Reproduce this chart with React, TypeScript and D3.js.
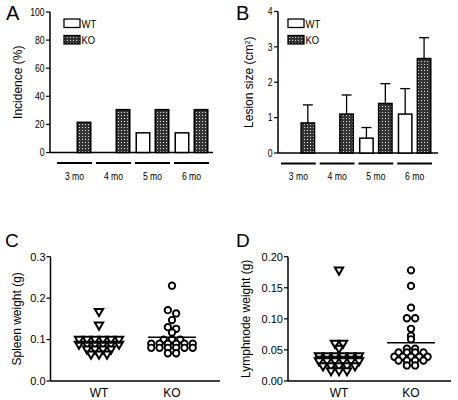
import React from "react";
import * as d3 from "d3";

const months = ["3 mo", "4 mo", "5 mo", "6 mo"];
const groups = ["WT", "KO"];
const incidenceWT = [0, 0, 14, 14];
const incidenceKO = [21.5, 30.5, 30.5, 30.5];
const incidenceTicks = [0, 20, 40, 60, 80, 100];
const lesionWT = [0, 0, 0.42, 1.1];
const lesionWTErr = [0, 0, 0.3, 0.72];
const lesionKO = [0.85, 1.1, 1.4, 2.67];
const lesionKOErr = [0.51, 0.54, 0.56, 0.59];
const lesionTicks = [0, 1, 2, 3, 4];

const spleenWT = [0.167, 0.134, 0.1, 0.1, 0.1, 0.1, 0.1, 0.1, 0.088, 0.088, 0.088, 0.088, 0.088, 0.088, 0.076, 0.076, 0.076, 0.076, 0.064, 0.064, 0.064];
const spleenKO = [0.23, 0.171, 0.163, 0.147, 0.13, 0.126, 0.117, 0.1, 0.1, 0.1, 0.09, 0.09, 0.09, 0.09, 0.09, 0.09, 0.08, 0.08, 0.08, 0.08, 0.08, 0.08, 0.067, 0.067];
const spleenTicks = [0, 0.1, 0.2, 0.3];
const lymphWT = [0.178, 0.06, 0.06, 0.052, 0.04, 0.04, 0.04, 0.04, 0.04, 0.04, 0.032, 0.032, 0.032, 0.032, 0.032, 0.032, 0.024, 0.024, 0.024, 0.024, 0.024, 0.016, 0.016, 0.016];
const lymphKO = [0.178, 0.153, 0.118, 0.101, 0.101, 0.084, 0.073, 0.067, 0.052, 0.052, 0.046, 0.046, 0.046, 0.046, 0.039, 0.039, 0.039, 0.039, 0.039, 0.033, 0.033, 0.033, 0.033, 0.025, 0.025];
const lymphTicks = [0, 0.05, 0.1, 0.15, 0.2];

const ARIAL = "Arial, 'Liberation Sans', sans-serif";

// Prism-like row layout: points whose pixel heights are close share a row and are spread symmetrically
function rowLayout(values: number[], y: (v: number) => number, cx: number, w: number, h: number) {
  const order = values.map((_, i) => i).sort((a, b) => values[b] - values[a]);
  const rows: number[][] = [];
  for (const i of order) {
    const last = rows[rows.length - 1];
    if (last && Math.abs(y(values[i]) - y(values[last[0]])) < h) last.push(i);
    else rows.push([i]);
  }
  const xs = new Array(values.length).fill(cx);
  for (const row of rows) {
    row.forEach((idx, k) => {
      xs[idx] = cx + (k - (row.length - 1) / 2) * w;
    });
  }
  return xs;
}

function NarrowText(props: { x: number; y: number; anchor: string; children: React.ReactNode; size?: number }) {
  return (
    <text transform={`translate(${props.x},${props.y}) scale(0.82,1)`} dy="0.35em" textAnchor={props.anchor}
      fontFamily={ARIAL} fontSize={props.size ?? 10.5}>{props.children}</text>
  );
}

function BarPanel(props: {
  letter: string; letterX: number; x0: number; x1: number; axisX: number; axisEnd: number;
  y: d3.ScaleLinear<number, number>; ticks: number[]; wt: number[]; ko: number[];
  wtErr?: number[]; koErr?: number[]; title: React.ReactNode; titleX: number; legendX: number;
}) {
  const { x0, x1, y } = props;
  const band = d3.scaleBand().domain(months).range([x0, x1]);
  const bw = band.bandwidth();
  const inner = d3.scaleBand().domain(groups).range([0, bw]).paddingInner(0.29).paddingOuter(0.17);
  const base = y(0);
  const top = y(props.ticks[props.ticks.length - 1]);
  return (
    <g>
      <text x={props.letterX} y={20} fontFamily={ARIAL} fontSize={20}>{props.letter}</text>
      <line x1={props.axisX} x2={props.axisX} y1={top} y2={base} stroke="#000" strokeWidth={1.5} />
      <line x1={props.axisX} x2={props.axisEnd} y1={base} y2={base} stroke="#000" strokeWidth={1.5} />
      {props.ticks.map((t) => (
        <g key={t}>
          <line x1={props.axisX - 4} x2={props.axisX} y1={y(t)} y2={y(t)} stroke="#000" strokeWidth={1.2} />
          <NarrowText x={props.axisX - 5.5} y={y(t)} anchor="end">{t}</NarrowText>
        </g>
      ))}
      <text transform={`translate(${props.titleX},${(top + base) / 2}) rotate(-90)`} textAnchor="middle" fontFamily={ARIAL} fontSize={12}>{props.title}</text>
      {months.map((m, i) => {
        const bx = band(m)!;
        const vals = [props.wt[i], props.ko[i]];
        const errs = [props.wtErr ? props.wtErr[i] : 0, props.koErr ? props.koErr[i] : 0];
        return (
          <g key={m}>
            {groups.map((g, j) => {
              const v = vals[j];
              if (v <= 0) return null;
              const x = bx + inner(g)!;
              const cx = x + inner.bandwidth() / 2;
              const e = errs[j];
              return (
                <g key={g}>
                  {e > 0 && (
                    <g>
                      <line x1={cx} x2={cx} y1={y(v)} y2={y(v + e)} stroke="#000" strokeWidth={1.3} />
                      <line x1={cx - 5} x2={cx + 5} y1={y(v + e)} y2={y(v + e)} stroke="#000" strokeWidth={1.3} />
                    </g>
                  )}
                  <rect x={x} y={y(v)} width={inner.bandwidth()} height={base - y(v)}
                    fill={g === "WT" ? "#fff" : "url(#hatch)"} stroke="#000" strokeWidth={1.5} />
                </g>
              );
            })}
            <line x1={bx + 2} x2={bx + bw - 2} y1={base + 10.5} y2={base + 10.5} stroke="#000" strokeWidth={1.8} />
            <NarrowText x={bx + bw / 2} y={base + 23.5} anchor="middle">{m}</NarrowText>
          </g>
        );
      })}
      {groups.map((g, j) => (
        <g key={g}>
          <rect x={props.legendX} y={19 + j * 16.5} width={16} height={8.5} fill={g === "WT" ? "#fff" : "url(#hatch)"} stroke="#000" strokeWidth={1.3} />
          <NarrowText x={props.legendX + 17.5} y={23.5 + j * 16.5} anchor="start" size={11.5}>{g}</NarrowText>
        </g>
      ))}
    </g>
  );
}

function ScatterPanel(props: {
  letter: string; letterX: number; axisX: number; axisEnd: number; catRange: [number, number];
  y: d3.ScaleLinear<number, number>; ticks: number[]; fmt: (n: number) => string;
  wt: number[]; ko: number[]; title: string; titleX: number;
}) {
  const { y } = props;
  const xs = d3.scalePoint().domain(groups).range(props.catRange);
  const base = y(0);
  const top = y(props.ticks[props.ticks.length - 1]);
  const wtX = rowLayout(props.wt, y, xs("WT")!, 8, 3.6);
  const koX = rowLayout(props.ko, y, xs("KO")!, 8.3, 3.6);
  const tri = d3.symbol(d3.symbolTriangle, 30)()!;
  const wtMean = d3.mean(props.wt)!;
  const koMean = d3.mean(props.ko)!;
  return (
    <g>
      <text x={props.letterX} y={247} fontFamily={ARIAL} fontSize={19}>{props.letter}</text>
      <line x1={props.axisX} x2={props.axisX} y1={top} y2={base} stroke="#000" strokeWidth={1.5} />
      <line x1={props.axisX} x2={props.axisEnd} y1={base} y2={base} stroke="#000" strokeWidth={1.5} />
      {props.ticks.map((t) => (
        <g key={t}>
          <line x1={props.axisX - 4} x2={props.axisX} y1={y(t)} y2={y(t)} stroke="#000" strokeWidth={1.2} />
          <text x={props.axisX - 5} y={y(t)} dy="0.35em" textAnchor="end" fontFamily={ARIAL} fontSize={11}>{props.fmt(t)}</text>
        </g>
      ))}
      <text transform={`translate(${props.titleX},${(top + base) / 2}) rotate(-90)`} textAnchor="middle" fontFamily={ARIAL} fontSize={12}>{props.title}</text>
      {groups.map((g) => (
        <text key={g} x={xs(g)!} y={base + 16} textAnchor="middle" fontFamily={ARIAL} fontSize={12}>{g}</text>
      ))}
      {props.wt.map((v, i) => (
        <path key={"w" + i} d={tri} transform={`translate(${wtX[i]},${y(v) - 0.5}) rotate(180)`} fill="#fff" stroke="#000" strokeWidth={2} />
      ))}
      {props.ko.map((v, i) => (
        <circle key={"k" + i} cx={koX[i]} cy={y(v)} r={3.2} fill="#fff" stroke="#000" strokeWidth={1.9} />
      ))}
      <line x1={xs("WT")! - 24} x2={xs("WT")! + 24} y1={y(wtMean)} y2={y(wtMean)} stroke="#000" strokeWidth={1.5} />
      <line x1={xs("KO")! - 24} x2={xs("KO")! + 24} y1={y(koMean)} y2={y(koMean)} stroke="#000" strokeWidth={1.5} />
    </g>
  );
}

export default function App() {
  const yA = d3.scaleLinear().domain([0, 100]).range([152.5, 12]);
  const yB = d3.scaleLinear().domain([0, 4]).range([153, 11.5]);
  const yC = d3.scaleLinear().domain([0, 0.3]).range([381, 256.7]);
  const yD = d3.scaleLinear().domain([0, 0.2]).range([381, 256.7]);
  return (
    <svg width={458} height={400} style={{ position: "absolute", left: 0, top: 0 }}>
      <defs>
        <pattern id="hatch" width={3} height={3} patternUnits="userSpaceOnUse">
          <rect width={3} height={3} fill="#333" />
          <rect x={1} y={1} width={1} height={1} fill="#ddd" />
        </pattern>
      </defs>
      <rect width={458} height={400} fill="#fff" />
      <BarPanel letter="A" letterX={6} x0={55} x1={211} axisX={50} axisEnd={213} y={yA}
        ticks={incidenceTicks} wt={incidenceWT} ko={incidenceKO} title="Incidence (%)" titleX={22} legendX={64} />
      <BarPanel letter="B" letterX={236} x0={279} x1={434} axisX={278} axisEnd={438} y={yB}
        ticks={lesionTicks} wt={lesionWT} ko={lesionKO} wtErr={lesionWTErr} koErr={lesionKOErr}
        title={<tspan>Lesion size (cm<tspan baselineShift="super" fontSize={7}>2</tspan>)</tspan>} titleX={253} legendX={288} />
      <ScatterPanel letter="C" letterX={5} axisX={50.5} axisEnd={220} catRange={[99, 172]} y={yC}
        ticks={spleenTicks} fmt={d3.format(".1f")} wt={spleenWT} ko={spleenKO} title="Spleen weight (g)" titleX={21} />
      <ScatterPanel letter="D" letterX={236} axisX={288} axisEnd={451} catRange={[339, 411]} y={yD}
        ticks={lymphTicks} fmt={d3.format(".2f")} wt={lymphWT} ko={lymphKO} title="Lymphnode weight (g)" titleX={250} />
    </svg>
  );
}
